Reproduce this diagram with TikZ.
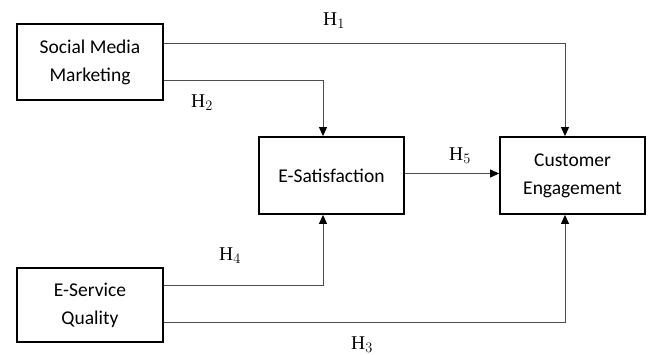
\documentclass[tikz,border=0pt]{standalone}
\usepackage{fontspec}
\setmainfont{Liberation Serif}
\newfontfamily\boxfont{Carlito}
\usetikzlibrary{arrows.meta}
\begin{document}
\begin{tikzpicture}[x=1pt,y=-1pt,
  box/.style={draw=black,line width=1.8pt,rectangle,align=center,inner sep=0pt,
    font=\boxfont\fontsize{19.5}{28}\selectfont},
  conn/.style={draw=black!70,line width=1pt,-{Triangle[length=9pt,width=8pt,color=black]}},
  hlab/.style={font=\fontsize{19.5}{22}\selectfont,inner sep=0pt}]
\useasboundingbox (0,0) rectangle (649,355);
\node[box,minimum width=146pt,minimum height=76pt] (smm) at (90,62) {Social Media\\Marketing};
\node[box,minimum width=145pt,minimum height=77pt] (es) at (331.5,175.5) {E-Satisfaction};
\node[box,minimum width=145pt,minimum height=77pt] (ce) at (572.5,175.5) {Customer\\Engagement};
\node[box,minimum width=146pt,minimum height=74pt] (esq) at (90,305) {E-Service\\Quality};
\draw[conn] ([yshift=18pt]smm.east) -| ([xshift=-7.5pt]ce.north);
\draw[conn] ([yshift=-19pt]smm.east) -| ([xshift=-8.5pt]es.north);
\draw[conn] ([yshift=2pt]es.east) -- ([yshift=2pt]ce.west);
\draw[conn] ([yshift=19pt]esq.east) -| ([xshift=-8.5pt]es.south);
\draw[conn] ([yshift=-18pt]esq.east) -| ([xshift=-7.5pt]ce.south);
\node[hlab] (h1) at (334,21) {H$_1$};
\node[hlab] (h2) at (202,103) {H$_2$};
\node[hlab] (h5) at (460,156) {H$_5$};
\node[hlab] (h4) at (230,256) {H$_4$};
\node[hlab] (h3) at (362,345) {H$_3$};
\end{tikzpicture}
\end{document}
